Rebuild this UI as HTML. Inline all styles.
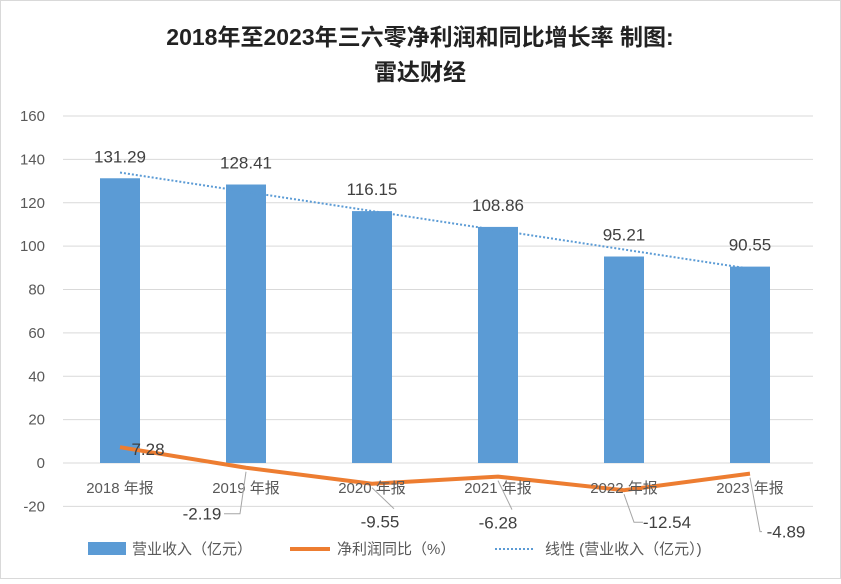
<!DOCTYPE html>
<html><head><meta charset="utf-8"><style>
body{margin:0;background:#fff;}
svg text{font-family:"Liberation Sans","Noto Sans CJK SC",sans-serif;}
</style></head><body>
<svg id="c" width="841" height="579" xmlns="http://www.w3.org/2000/svg">
<rect x="0.5" y="0.5" width="840" height="578" fill="#fff" stroke="#d9d9d9"/>
<text x="420" y="45" text-anchor="middle" font-size="23" font-weight="bold" fill="#222">2018年至2023年三六零净利润和同比增长率 制图:</text>
<text x="420" y="80" text-anchor="middle" font-size="23" font-weight="bold" fill="#222">雷达财经</text>
<g id="grid"></g><g id="bars"></g><g id="trend"></g><g id="line"></g><g id="labels"></g>
<g>
<rect x="88" y="542" width="38" height="13" fill="#5b9bd5"/>
<text x="132" y="554" font-size="15" fill="#595959">营业收入（亿元）</text>
<line x1="290" y1="549" x2="330" y2="549" stroke="#ed7d31" stroke-width="4"/>
<text x="337" y="554" font-size="15" fill="#595959">净利润同比（%）</text>
<line x1="495" y1="549" x2="535" y2="549" stroke="#5b9bd5" stroke-width="2" stroke-dasharray="2,2"/>
<text x="545" y="554" font-size="15" fill="#595959">线性 (营业收入（亿元）)</text>
</g>
</svg>
<script>
const categories=["2018年报","2019年报","2020年报","2021年报","2022年报","2023年报"];
const revenue=[131.29,128.41,116.15,108.86,95.21,90.55];
const profitYoY=[7.28,-2.19,-9.55,-6.28,-12.54,-4.89];
const yTicks=[-20,0,20,40,60,80,100,120,140,160];
const NS="http://www.w3.org/2000/svg";
const left=57,band=126,x0=63,x1=813;
const y=v=>463-v*(347/160);
const cx=i=>left+band*i+band/2;
function mk(t,a,p,txt){const e=document.createElementNS(NS,t);for(const k in a)e.setAttribute(k,a[k]);if(txt!=null)e.textContent=txt;document.getElementById(p).appendChild(e);return e;}
yTicks.forEach(v=>{
 const l=mk('line',{x1:x0,x2:x1,y1:y(v),y2:y(v),stroke:'#d9d9d9'},'grid');
 
 
 const t=mk('text',{x:45,y:y(v)+5,'text-anchor':'end','font-size':15,fill:'#595959'},'grid',v);
 
 
});
categories.forEach((c,i)=>{
 const b=mk('rect',{x:cx(i)-20,y:y(revenue[i]),width:40,height:y(0)-y(revenue[i]),fill:'#5b9bd5'},'bars');
 
 
 const v=mk('text',{x:cx(i),y:y(revenue[i])-16,'text-anchor':'middle','font-size':17,fill:'#404040'},'labels',revenue[i].toFixed(2));
 
 
 const t=mk('text',{x:cx(i),y:493,'text-anchor':'middle','font-size':15,fill:'#595959'},'labels',c.replace('年',' 年'));
 
 
});
const n=revenue.length;let sx=0,sy=0,sxy=0,sxx=0;
revenue.forEach((v,i)=>{sx+=i;sy+=v;sxy+=i*v;sxx+=i*i;});
const m=(n*sxy-sx*sy)/(n*sxx-sx*sx),b0=(sy-m*sx)/n;
const tr=mk('line',{x1:cx(0),y1:y(b0),x2:cx(n-1),y2:y(b0+m*(n-1)),stroke:'#5b9bd5','stroke-width':2,'stroke-dasharray':'2,2'},'trend');


const pl=mk('polyline',{points:profitYoY.map((v,i)=>cx(i)+','+y(v)).join(' '),fill:'none',stroke:'#ed7d31','stroke-width':4,'stroke-linejoin':'round'},'line');


// label offsets [dx, dy, leader type]
const offs=[[28,8,null],[-44,52,'left'],[8,44,'diag'],[0,52,'diag'],[43,38,'right'],[36,64,'right']];
profitYoY.forEach((v,i)=>{
 const px=cx(i),py=y(v),o=offs[i];
 const lx=px+o[0],ly=py+o[1];
 if(o[2]){
  let d;
  if(o[2]==='left') d=`M${px},${py+4} L${px-6},${ly-6} L${lx+22},${ly-6}`;
  else if(o[2]==='right') d=`M${px},${py+4} L${px+10},${ly-6} L${lx-24},${ly-6}`;
  else d=`M${px},${py+4} L${px+o[0]+14},${ly-19}`;
  const ll=mk('path',{d:d,fill:'none',stroke:'#a6a6a6','stroke-width':1},'labels');
  
  
 }
 const t=mk('text',{x:lx,y:ly,'text-anchor':'middle','font-size':17,fill:'#404040'},'labels',v.toFixed(2));
 
 
});
</script>
</body></html>
